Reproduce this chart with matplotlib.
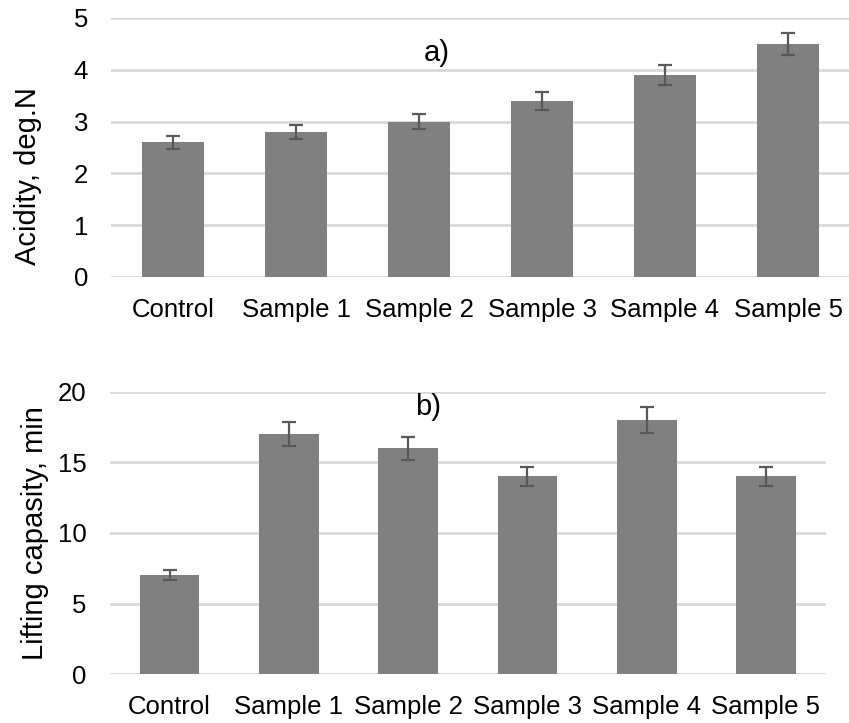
import matplotlib
matplotlib.use("Agg")
import matplotlib.pyplot as plt
import numpy as np

plt.rcParams['font.family'] = ['Liberation Sans', 'DejaVu Sans']

categories = ["Control", "Sample 1", "Sample 2", "Sample 3", "Sample 4", "Sample 5"]
acidity = [2.6, 2.8, 3.0, 3.4, 3.9, 4.5]
acidity_err = [0.13, 0.14, 0.15, 0.17, 0.2, 0.22]
lifting = [7, 17, 16, 14, 18, 14]
lifting_err = [0.35, 0.85, 0.8, 0.7, 0.9, 0.7]
acid_ticks = [0, 1, 2, 3, 4, 5]
lift_ticks = [0, 5, 10, 15, 20]

W, H = 849, 723
fig = plt.figure(figsize=(W / 100, H / 100), dpi=100)

ax1 = fig.add_axes([111.5 / W, 1 - 277 / H, 738 / W, 259 / H])
ax2 = fig.add_axes([110 / W, 1 - 674.3 / H, 715.6 / W, 282.6 / H])

bar_color = "#808080"
err_color = "#595959"
grid_color = "#d9d9d9"
fs = 18.5
fs_lbl = 21

def style(ax, values, errs, ticks, ylabel, tag, tagpos, lblpos):
    x = np.arange(len(categories))
    ax.bar(x, values, width=0.5, color=bar_color, zorder=3,
           yerr=errs, error_kw=dict(ecolor=err_color, elinewidth=1.6, capsize=4.8, capthick=1.6, zorder=4))
    ax.set_xlim(-0.5, len(categories) - 0.5)
    ax.set_ylim(ticks[0], ticks[-1])
    ax.set_yticks(ticks)
    ax.set_xticks(x)
    ax.set_xticklabels(categories, fontsize=fs)
    ax.tick_params(axis='y', labelsize=fs, length=0, pad=17)
    ax.tick_params(axis='x', length=0, pad=15)
    ax.yaxis.grid(True, color=grid_color, linewidth=2, zorder=0)
    ax.set_axisbelow(True)
    for s in ax.spines.values():
        s.set_visible(False)
    ax.set_ylabel(ylabel, fontsize=fs_lbl, va='center')
    ax.yaxis.set_label_coords(*lblpos)
    ax.text(tagpos[0], tagpos[1], tag, transform=ax.transAxes, fontsize=fs_lbl,
            ha='center', va='center')
    ax.patch.set_alpha(0)

style(ax1, acidity, acidity_err, acid_ticks, "Acidity, deg.N", "a)", (0.441, 0.865), (-0.113, 0.39))
style(ax2, lifting, lifting_err, lift_ticks, "Lifting capasity, min", "b)", (0.444, 0.946), (-0.105, 0.5))

fig.savefig("out.png", dpi=100)
